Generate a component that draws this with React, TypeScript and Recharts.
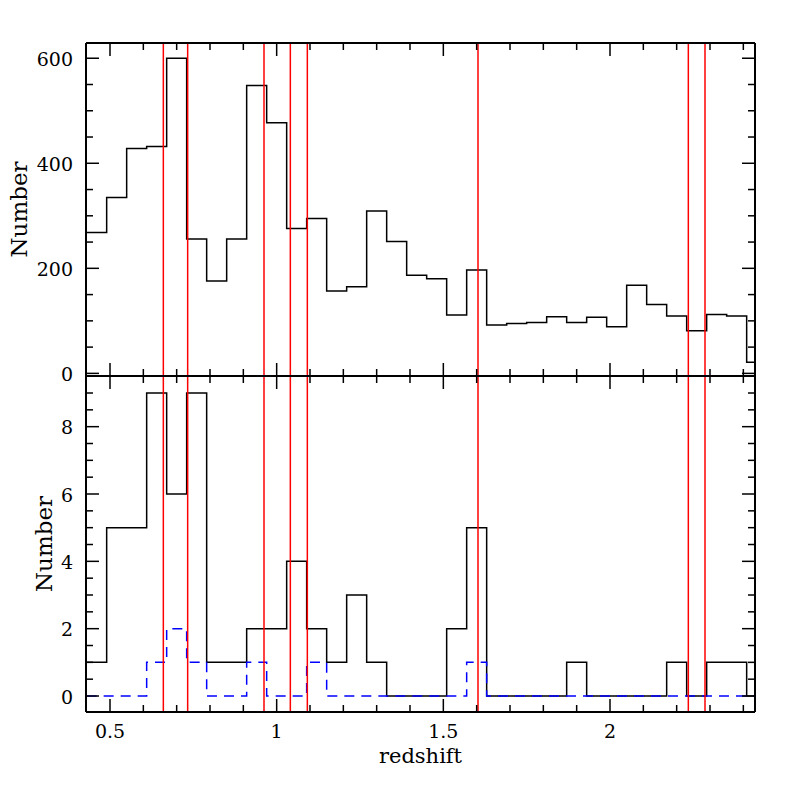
import React from 'react';
import { LineChart, Line, XAxis, YAxis, ReferenceLine } from 'recharts';

// histogram binning (redshift)
const BIN_START = 0.43;
const BIN_WIDTH = 0.06;

// upper panel: full sample counts per bin
const allCounts = [
  268, 335, 428, 432, 600, 256, 176, 256, 548, 477, 276, 295, 157, 165, 309, 251, 187,
  180, 111, 197, 92, 95, 97, 108, 97, 107, 89, 168, 131, 109, 81, 112, 109, 21,
];
// lower panel: solid histogram
const subCounts = [
  1, 5, 5, 9, 6, 9, 1, 1, 2, 2, 4, 2, 1, 3, 1, 0, 0,
  0, 2, 5, 0, 0, 0, 0, 1, 0, 0, 0, 0, 1, 0, 1, 1, 0,
];
// lower panel: dashed histogram
const subDashed = [
  0, 0, 0, 1, 2, 1, 0, 0, 1, 0, 0, 1, 0, 0, 0, 0, 0,
  0, 0, 1, 0, 0, 0, 0, 0, 0, 0, 0, 0, 0, 0, 0, 0, 0,
];
// red marker redshifts
const redLines = [0.66, 0.733, 0.962, 1.041, 1.092, 1.604, 2.235, 2.285];

const xTicks = [0.5, 0.6, 0.7, 0.8, 0.9, 1.0, 1.1, 1.2, 1.3, 1.4, 1.5, 1.6, 1.7, 1.8, 1.9, 2.0, 2.1, 2.2, 2.3, 2.4];
const xMajor = [0.5, 1.0, 1.5, 2.0];
const topYTicks = [0, 50, 100, 150, 200, 250, 300, 350, 400, 450, 500, 550, 600];
const topYMajor = [0, 200, 400, 600];
const botYTicks = [0, 0.5, 1, 1.5, 2, 2.5, 3, 3.5, 4, 4.5, 5, 5.5, 6, 6.5, 7, 7.5, 8, 8.5, 9];
const botYMajor = [0, 2, 4, 6, 8];

const X_DOMAIN: [number, number] = [0.428, 2.435];
const TOP_DOMAIN: [number, number] = [-5, 629];
const BOT_DOMAIN: [number, number] = [-0.475, 9.505];

// plot boxes (px)
const PLOT_W = 669;
const TOP_H = 333;
const BOT_H = 336;

const FONT = '"DejaVu Serif", serif';
const MAJOR = 13;
const MINOR = 7;

const edge = (i: number) => +(BIN_START + i * BIN_WIDTH).toFixed(3);

// stepAfter needs a closing point at the right edge of the last bin
const topData = allCounts
  .map((v, i) => ({ z: edge(i), n: v }))
  .concat([{ z: edge(allCounts.length), n: allCounts[allCounts.length - 1] }]);

const botData = subCounts
  .map((v, i) => ({ z: edge(i), a: v, b: subDashed[i] }))
  .concat([{ z: edge(subCounts.length), a: subCounts[subCounts.length - 1], b: subDashed[subDashed.length - 1] }]);

const isIn = (list: number[], v: number) => list.some((m) => Math.abs(m - v) < 1e-6);
const fmt = (v: number) => String(+v.toFixed(2));

const XLabelTick = (props: any) => {
  const x = Number(props.x);
  const y = Number(props.y);
  const v = props.payload.value;
  if (!isIn(xMajor, v)) return <g />;
  return (
    <text x={x} y={y + 19.5} dy="0.35em" textAnchor="middle" fontFamily={FONT} fontSize={19} fill="#000">
      {fmt(v)}
    </text>
  );
};

const makeYLabelTick = (major: number[]) => (props: any) => {
  const x = Number(props.x);
  const y = Number(props.y);
  const v = props.payload.value;
  if (!isIn(major, v)) return <g />;
  return (
    <text x={x - 13} y={y} dy="0.4em" textAnchor="end" fontFamily={FONT} fontSize={19} fill="#000">
      {fmt(v)}
    </text>
  );
};

const YTitle = (props: any) => {
  const { viewBox, cx, fallbackY } = props;
  const cy = viewBox && viewBox.height ? viewBox.y + viewBox.height / 2 : fallbackY;
  return (
    <text
      x={cx}
      y={cy}
      transform={`rotate(-90 ${cx} ${cy})`}
      textAnchor="middle"
      dy="0.35em"
      fontFamily={FONT}
      fontSize={23}
      fill="#000"
    >
      Number
    </text>
  );
};

const XTitle = (props: any) => {
  const { viewBox } = props;
  const cx = viewBox ? viewBox.x + viewBox.width / 2 : 420;
  const y = viewBox ? viewBox.y + 51 : 763;
  return (
    <text x={cx} y={y} textAnchor="middle" fontFamily={FONT} fontSize={21} fill="#000">
      redshift
    </text>
  );
};

// frame and inward tick marks for one panel
const frameAndTicks = (yDomain: [number, number], plotH: number, yTicks: number[], yMajor: number[], key: string) => {
  const [x0, x1] = X_DOMAIN;
  const [y0, y1] = yDomain;
  const ux = (x1 - x0) / PLOT_W;
  const uy = (y1 - y0) / plotH;
  const out: React.ReactNode[] = [];
  const seg = (id: string, a: any, b: any) =>
    out.push(
      <ReferenceLine key={`${key}-${id}`} segment={[a, b]} stroke="#000" strokeWidth={1.5} ifOverflow="visible" />
    );
  xTicks.forEach((t) => {
    const len = isIn(xMajor, t) ? MAJOR : MINOR;
    seg(`xb${t}`, { x: t, y: y0 }, { x: t, y: y0 + len * uy });
    seg(`xt${t}`, { x: t, y: y1 }, { x: t, y: y1 - len * uy });
  });
  yTicks.forEach((t) => {
    const len = isIn(yMajor, t) ? MAJOR : MINOR;
    seg(`yl${t}`, { x: x0, y: t }, { x: x0 + len * ux, y: t });
    seg(`yr${t}`, { x: x1, y: t }, { x: x1 - len * ux, y: t });
  });
  out.push(<ReferenceLine key={`${key}-fl`} x={x0} stroke="#000" strokeWidth={2} ifOverflow="visible" />);
  out.push(<ReferenceLine key={`${key}-fr`} x={x1} stroke="#000" strokeWidth={2} ifOverflow="visible" />);
  out.push(<ReferenceLine key={`${key}-fb`} y={y0} stroke="#000" strokeWidth={2} ifOverflow="visible" />);
  out.push(<ReferenceLine key={`${key}-ft`} y={y1} stroke="#000" strokeWidth={2} ifOverflow="visible" />);
  return out;
};

const App: React.FC = () => {
  return (
    <div style={{ position: 'absolute', left: 0, top: 0, width: 797, height: 797, background: '#fff' }}>
      <div style={{ position: 'absolute', left: 0, top: 0 }}>
        <LineChart width={797} height={797} data={topData} margin={{ top: 43, right: 42, bottom: 421, left: 0 }}>
          <XAxis dataKey="z" type="number" domain={X_DOMAIN} allowDataOverflow ticks={xTicks} hide />
          <YAxis
            type="number"
            domain={TOP_DOMAIN}
            allowDataOverflow
            ticks={topYTicks}
            interval={0}
            width={86}
            tickSize={0}
            tickMargin={0}
            tickLine={false}
            axisLine={false}
            tick={makeYLabelTick(topYMajor)}
            label={<YTitle cx={19} fallbackY={210} />}
          />
          <Line type="stepAfter" dataKey="n" stroke="#000" strokeWidth={1.5} dot={false} activeDot={false} isAnimationActive={false} />
          {redLines.map((z) => (
            <ReferenceLine key={z} x={z} stroke="#ff0000" strokeWidth={1.5} />
          ))}
          {frameAndTicks(TOP_DOMAIN, TOP_H, topYTicks, topYMajor, 'top')}
        </LineChart>
      </div>
      <div style={{ position: 'absolute', left: 0, top: 0 }}>
        <LineChart width={797} height={797} data={botData} margin={{ top: 376, right: 42, bottom: 0, left: 0 }}>
          <XAxis
            dataKey="z"
            type="number"
            domain={X_DOMAIN}
            allowDataOverflow
            ticks={xTicks}
            interval={0}
            height={85}
            tickSize={0}
            tickMargin={0}
            tickLine={false}
            axisLine={false}
            tick={<XLabelTick />}
            label={<XTitle />}
          />
          <YAxis
            type="number"
            domain={BOT_DOMAIN}
            allowDataOverflow
            ticks={botYTicks}
            interval={0}
            width={86}
            tickSize={0}
            tickMargin={0}
            tickLine={false}
            axisLine={false}
            tick={makeYLabelTick(botYMajor)}
            label={<YTitle cx={44} fallbackY={544} />}
          />
          <Line type="stepAfter" dataKey="a" stroke="#000" strokeWidth={1.5} dot={false} activeDot={false} isAnimationActive={false} />
          <Line
            type="stepAfter"
            dataKey="b"
            stroke="#0000ff"
            strokeWidth={1.5}
            strokeDasharray="10 7"
            dot={false}
            activeDot={false}
            isAnimationActive={false}
          />
          {redLines.map((z) => (
            <ReferenceLine key={z} x={z} stroke="#ff0000" strokeWidth={1.5} />
          ))}
          {frameAndTicks(BOT_DOMAIN, BOT_H, botYTicks, botYMajor, 'bot')}
        </LineChart>
      </div>
    </div>
  );
};

export default App;
